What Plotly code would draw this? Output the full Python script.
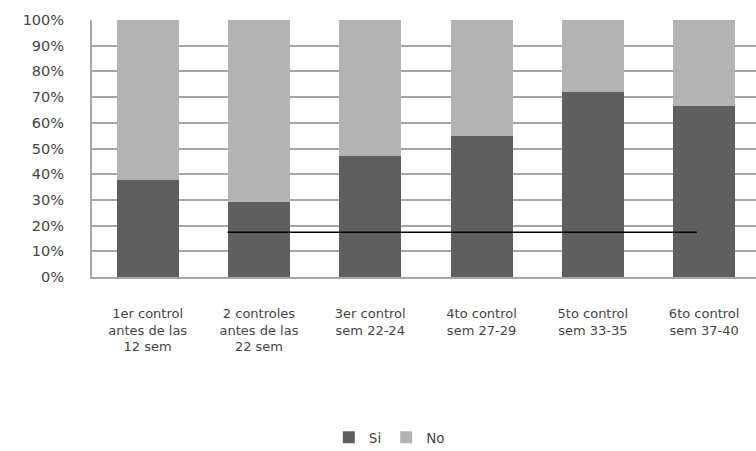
import plotly.graph_objects as go

categories = [
    "1er control<br>antes de las<br>12 sem",
    "2 controles<br>antes de las<br>22 sem",
    "3er control<br>sem 22-24",
    "4to control<br>sem 27-29",
    "5to control<br>sem 33-35",
    "6to control<br>sem 37-40",
]
si_values = [37.6, 29.2, 47.1, 55.0, 72.1, 66.5]
no_values = [100 - v for v in si_values]
y_ticks = [0, 10, 20, 30, 40, 50, 60, 70, 80, 90, 100]
y_tick_labels = [f"{t}%" for t in y_ticks]

# stray horizontal line drawn over the chart (value level and category span)
line_level = 17.4
line_start = 0.717
line_end = 4.934

FONT = "DejaVu Sans"
TEXT_COLOR = "#454545"

x_idx = list(range(len(categories)))

fig = go.Figure()
fig.add_trace(go.Bar(x=x_idx, y=si_values, name="Si", marker_color="#5f5f5f",
                     marker_line_width=0))
fig.add_trace(go.Bar(x=x_idx, y=no_values, name="No", marker_color="#b3b3b3",
                     marker_line_width=0))

fig.add_shape(type="line", xref="x", yref="y",
              x0=line_start, x1=line_end, y0=line_level, y1=line_level,
              line=dict(color="#000000", width=1.5))

fig.update_layout(
    width=756, height=451,
    barmode="stack",
    bargap=0.443,
    plot_bgcolor="white", paper_bgcolor="white",
    margin=dict(l=92, r=0, t=20, b=174),
    font=dict(family=FONT, size=12, color=TEXT_COLOR),
    showlegend=True,
    legend=dict(orientation="h", xref="container", yref="container",
                x=0.515, y=0.03, xanchor="center", yanchor="middle",
                font=dict(size=13.5, color=TEXT_COLOR), itemwidth=30,
                traceorder="normal"),
    xaxis=dict(
        tickmode="array", tickvals=x_idx, ticktext=categories,
        range=[-0.5, 5.466],
        showgrid=False, showline=True, linecolor="#a6a6a6", linewidth=2,
        ticks="", ticklabelstandoff=23,
        tickfont=dict(size=13, color=TEXT_COLOR),
    ),
    yaxis=dict(
        range=[0, 100], tickmode="array", tickvals=y_ticks, ticktext=y_tick_labels,
        showgrid=True, gridcolor="#a6a6a6", gridwidth=2,
        showline=True, linecolor="#a6a6a6", linewidth=2,
        zeroline=False, ticks="", ticklabelstandoff=23,
        tickfont=dict(size=14.5, color=TEXT_COLOR),
    ),
)

fig.write_html("out.html")
